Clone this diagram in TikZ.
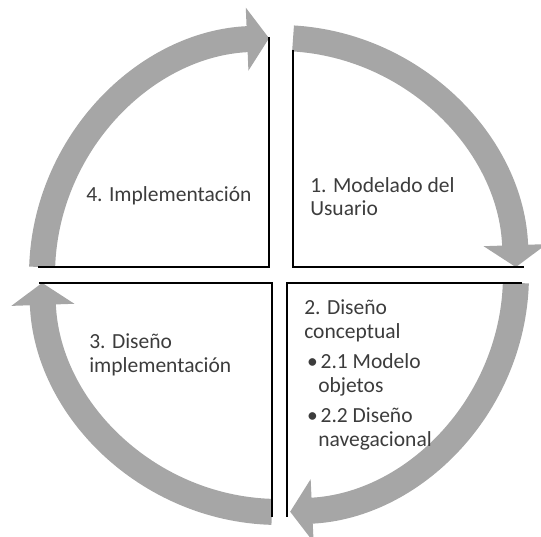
\documentclass[tikz,border=0pt]{standalone}
\usepackage{fontspec}
\setmainfont{Carlito}
\usetikzlibrary{arrows.meta}
\definecolor{ringgray}{RGB}{166,166,166}
\definecolor{txtgray}{RGB}{60,60,60}

\begin{document}
\begin{tikzpicture}[
  ring/.style={draw=ringgray,line width=0.65cm,-{Triangle[length=0.55cm,width=1.55cm]}},
  quad/.style={draw=black,line width=1.2pt},
  lbl/.style={text=txtgray,font=\fontsize{15.3}{16.7}\selectfont,align=left,inner sep=0pt,anchor=west}
]
\useasboundingbox (-6.975,-6.55) rectangle (6.55,6.875);
% arrows of the cycle
\draw[ring] (178.1:5.925) arc[start angle=178.1,end angle=92.4,radius=5.925];
\draw[ring] (86.6:5.925) arc[start angle=86.6,end angle=1.9,radius=5.925];
\draw[ring] (-1.9:5.925) arc[start angle=-1.9,end angle=-87.3,radius=5.925];
\draw[ring] (268.3:5.925) arc[start angle=268.3,end angle=181.9,radius=5.925];
% quadrants
\draw[quad] (-0.25,5.95) -- (-0.25,0.2) -- (-6.025,0.2);
\draw[quad] (0.35,5.625) -- (0.35,0.2) -- (6.125,0.2);
\draw[quad] (-6.0,-0.2) -- (-0.175,-0.2) -- (-0.175,-6.05);
\draw[quad] (6.075,-0.2) -- (0.2,-0.2) -- (0.2,-6.05);
% labels
\node[lbl] (impl) at (-4.825,1.975) {4. Implementación};
\node[lbl] (user) at (0.775,1.96) {1. Modelado del\\Usuario};
\node[lbl] (dimp) at (-4.75,-2.0) {3. Diseño\\implementación};
\node[lbl] (dcon) at (0.625,-2.5) {2. Diseño\\conceptual\\[5pt]
  \hspace*{2pt}\textbullet\hspace{2pt}2.1 Modelo\\\hspace*{10pt}objetos\\[5pt]
  \hspace*{2pt}\textbullet\hspace{2pt}2.2 Diseño\\\hspace*{10pt}navegacional};
\end{tikzpicture}
\end{document}
